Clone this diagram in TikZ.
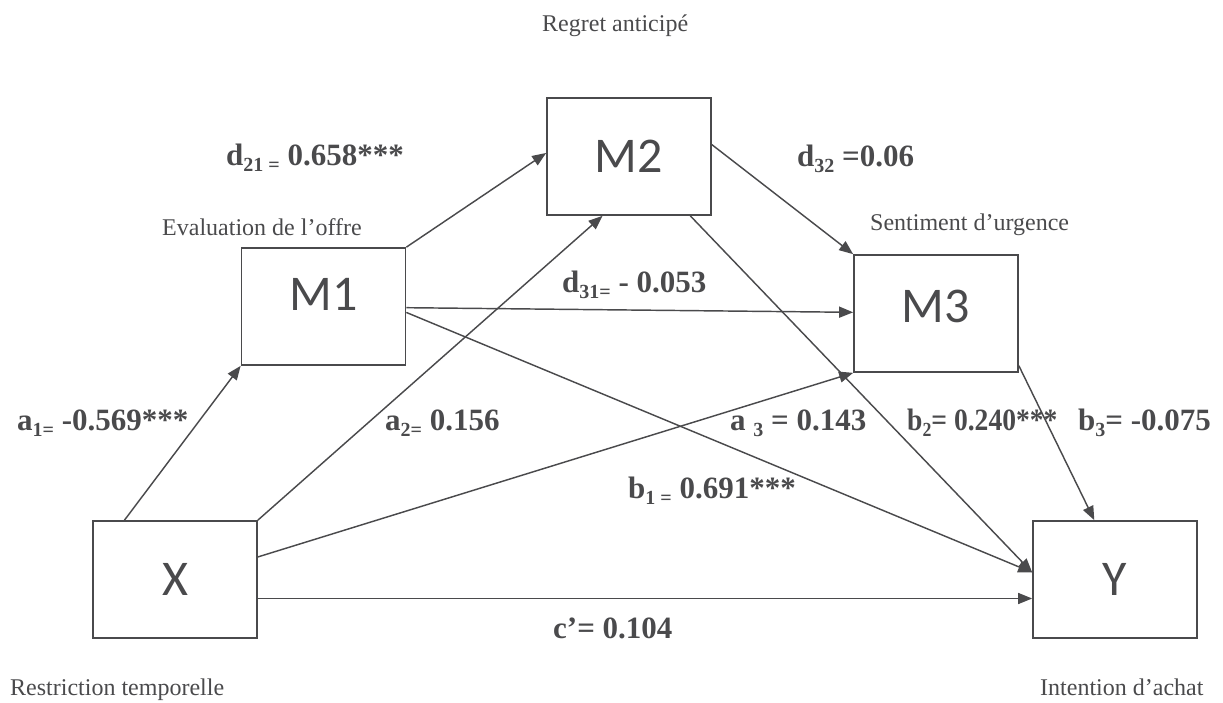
\documentclass[tikz,border=0pt]{standalone}
\usepackage{fontspec}
\setmainfont{Liberation Serif}
\newfontfamily\boxfont{Carlito}
\usetikzlibrary{arrows.meta,calc}
\definecolor{ink}{HTML}{4A4A4C}
\newcommand{\lsub}[1]{\raisebox{-0.22em}{\fontsize{20}{20}\selectfont #1}}
\begin{document}
\begin{tikzpicture}[x=1pt,y=-1pt,
 box/.style={draw=ink, line width=1.7pt, minimum width=164pt, minimum height=117pt, inner sep=0pt, font=\boxfont\fontsize{50}{50}\selectfont, text=ink},
 coef/.style={anchor=base west, inner sep=0pt, text=ink, font=\fontsize{31}{31}\selectfont\bfseries},
 lname/.style={anchor=base west, inner sep=0pt, text=ink, font=\fontsize{24}{24}\selectfont},
 arr/.style={draw=ink, line width=1.45pt, -{Triangle[length=14pt,width=11pt]}},
]
\useasboundingbox (0,0) rectangle (1223,702);
% boxes
\node[box] (X) at (175,579.5) {X};
\node[box] (Y) at (1115,579.5) {Y};
\node[box, text depth=25pt] (M1) at (323.5,306.5) {M1};
\node[box] (M2) at (629,156.5) {M2};
\node[box, text depth=15pt] (M3) at (936,313.5) {M3};
% arrows
\draw[arr] ($(X.north west)!0.195!(X.north east)$) -- (M1.south west);
\draw[arr] (X.north east) -- ($(M2.south west)!0.34!(M2.south east)$);
\draw[arr] ($(X.north east)!0.31!(X.south east)$) -- (M3.south west);
\draw[arr] ($(X.north east)!0.66!(X.south east)$) -- ($(Y.north west)!0.66!(Y.south west)$);
\draw[arr] (M1.north east) -- ($(M2.north west)!0.47!(M2.south west)$);
\draw[arr] ($(M1.north east)!0.51!(M1.south east)$) -- ($(M3.north west)!0.49!(M3.south west)$);
\draw[arr] ($(M1.north east)!0.55!(M1.south east)$) -- ($(Y.north west)!0.44!(Y.south west)$);
\draw[arr] ($(M2.north east)!0.40!(M2.south east)$) -- (M3.north west);
\draw[arr] ($(M2.south west)!0.87!(M2.south east)$) -- ($(Y.north west)!0.44!(Y.south west)$);
\draw[arr] ($(M3.north east)!0.94!(M3.south east)$) -- ($(Y.north west)!0.375!(Y.north east)$);
% texts
\node[lname] (lreg) at (542,31) {Regret anticipé};
\node[coef] (ld21) at (226,165) {d\lsub{21 =} 0.658***};
\node[lname] (lev) at (162,235) {Evaluation de l’offre};
\node[coef] (ld32) at (797,166) {d\lsub{32} =0.06};
\node[lname] (lse) at (870,230) {Sentiment d’urgence};
\node[coef] (ld31) at (562,292) {d\lsub{31=} - 0.053};
\node[coef] (la1) at (17,430) {a\lsub{1=} -0.569***};
\node[coef] (la2) at (385,430) {a\lsub{2=} 0.156};
\node[coef] (la3) at (730,430) {a \lsub{3} = 0.143};
\node[coef] (lb2) at (907,430) {\scalebox{0.89}[1]{b\lsub{2}= 0.240***}};
\node[coef] (lb3) at (1078,430) {b\lsub{3}= -0.075};
\node[coef] (lb1) at (628,498) {b\lsub{1 =} 0.691***};
\node[coef] (lc) at (553,638) {c’= 0.104};
\node[lname] (lrt) at (10,695) {Restriction temporelle};
\node[lname] (lia) at (1040,695) {Intention d’achat};
\end{tikzpicture}
\end{document}
